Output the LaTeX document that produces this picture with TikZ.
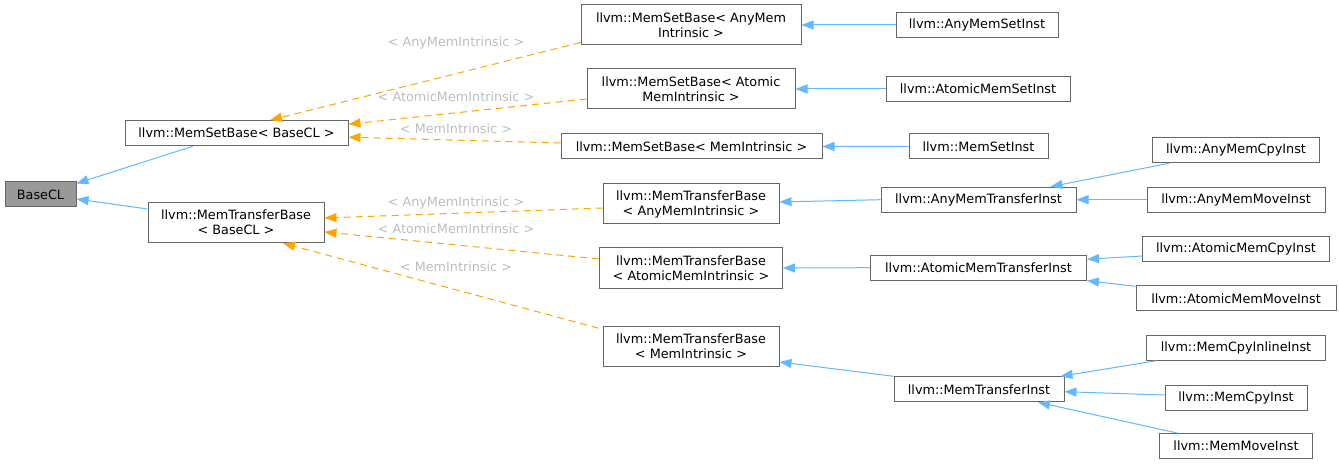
\documentclass[tikz,border=0pt]{standalone}
\usepackage{fontspec}
\setmainfont{DejaVu Sans}
\usetikzlibrary{arrows.meta}
\definecolor{nodeborder}{HTML}{666666}
\definecolor{basefill}{HTML}{999999}
\definecolor{inhblue}{HTML}{63B8FF}
\definecolor{tmplorange}{HTML}{FFA500}
\definecolor{lblgrey}{HTML}{BEBEBE}
\begin{document}
\begin{tikzpicture}[x=1pt,y=-1pt,
  font=\fontsize{12.8}{15}\selectfont,
  cls/.style={draw=nodeborder, line width=1pt, fill=white, inner sep=0pt, align=center, minimum height=25pt},
  cls2/.style={cls, minimum height=40pt},
  inh/.style={draw=inhblue, line width=1pt, -{Triangle[length=12pt,width=9pt]}},
  tpl/.style={draw=tmplorange, line width=1pt, dash pattern=on 7pt off 5pt, -{Triangle[length=12pt,width=9pt]}},
  lbl/.style={text=lblgrey, inner sep=0pt}]
\fill[white] (0,0) rectangle (1339,465);
\useasboundingbox (0,0) rectangle (1339,465);

% nodes
\node[cls, fill=basefill, minimum width=71pt] (base) at (40.5,194.5) {BaseCL};
\node[cls, minimum width=223pt] (msbB) at (236.5,133.2) {llvm::MemSetBase< BaseCL >};
\node[cls2, minimum width=176pt] (mtbB) at (236,222.7) {llvm::MemTransferBase\\< BaseCL >};

\node[cls2, minimum width=220pt] (msbAny) at (691,25) {llvm::MemSetBase< AnyMem\\Intrinsic >};
\node[cls2, minimum width=208pt] (msbAt) at (691,89) {llvm::MemSetBase< Atomic\\MemIntrinsic >};
\node[cls, minimum width=261pt] (msbMem) at (691.5,146.5) {llvm::MemSetBase< MemIntrinsic >};
\node[cls2, minimum width=176pt] (mtbAny) at (691,204) {llvm::MemTransferBase\\< AnyMemIntrinsic >};
\node[cls2, minimum width=183pt] (mtbAt) at (691,268) {llvm::MemTransferBase\\< AtomicMemIntrinsic >};
\node[cls2, minimum width=176pt] (mtbMem) at (691,346.7) {llvm::MemTransferBase\\< MemIntrinsic >};

\node[cls, minimum width=162pt] (amsi) at (977,25) {llvm::AnyMemSetInst};
\node[cls, minimum width=184pt] (atmsi) at (978,89) {llvm::AtomicMemSetInst};
\node[cls, minimum width=139pt] (msi) at (978.5,146.3) {llvm::MemSetInst};
\node[cls, minimum width=195pt] (amti) at (978.5,199.7) {llvm::AnyMemTransferInst};
\node[cls, minimum width=216pt] (atmti) at (978.5,267.7) {llvm::AtomicMemTransferInst};
\node[cls, minimum width=170pt] (mti) at (979,389.3) {llvm::MemTransferInst};

\node[cls, minimum width=167pt] (amci) at (1236,150.3) {llvm::AnyMemCpyInst};
\node[cls, minimum width=178pt] (ammi) at (1236,199.7) {llvm::AnyMemMoveInst};
\node[cls, minimum width=187pt] (atmci) at (1236,249.3) {llvm::AtomicMemCpyInst};
\node[cls, minimum width=200pt] (atmmi) at (1236,298.3) {llvm::AtomicMemMoveInst};
\node[cls, minimum width=179pt] (mcii) at (1236,347.8) {llvm::MemCpyInlineInst};
\node[cls, minimum width=142pt] (mci) at (1236,397.5) {llvm::MemCpyInst};
\node[cls, minimum width=153pt] (mmi) at (1236,446.2) {llvm::MemMoveInst};

% labels
\node[lbl] (l1) at (456,43) {< AnyMemIntrinsic >};
\node[lbl] (l2) at (456,97) {< AtomicMemIntrinsic >};
\node[lbl] (l3) at (456,129) {< MemIntrinsic >};
\node[lbl] (l4) at (456,202.7) {< AnyMemIntrinsic >};
\node[lbl] (l5) at (456,228.7) {< AtomicMemIntrinsic >};
\node[lbl] (l6) at (456,266.7) {< MemIntrinsic >};

% blue inheritance edges
\draw[inh] ([xshift=-43.5pt]msbB.south) -- ([yshift=-2pt]base.north east);
\draw[inh] ([yshift=13.7pt]mtbB.west) -- ([yshift=-4.5pt]base.east);
\draw[inh] (amsi.west) -- (msbAny.east);
\draw[inh] (atmsi.west) -- (msbAt.east);
\draw[inh] (msi.west) -- (msbMem.east);
\draw[inh] (amti.west) -- ([yshift=2pt]mtbAny.east);
\draw[inh] (atmti.west) -- (mtbAt.east);
\draw[inh] (mti.north west) -- ([yshift=-15.3pt]mtbMem.east);
\draw[inh] ([xshift=-67pt]amci.south) -- ([xshift=72pt]amti.north);
\draw[inh] (ammi.west) -- (amti.east);
\draw[inh] ([yshift=-6.7pt]atmci.west) -- ([yshift=8.4pt]atmti.east);
\draw[inh] ([yshift=-1pt]atmmi.north west) -- (atmti.south east);
\draw[inh] ([xshift=10pt]mcii.south west) -- ([xshift=-4pt]mti.north east);
\draw[inh] ([yshift=2.5pt]mci.west) -- ([yshift=-2.4pt]mti.east);
\draw[inh] ([xshift=-58pt]mmi.north) -- ([xshift=59pt]mti.south);

% orange template edges
\draw[tpl] ([yshift=3pt]msbAny.south west) -- ([xshift=33.5pt]msbB.north);
\draw[tpl] ([yshift=-10pt]msbAt.west) -- ([yshift=9pt]msbB.east);
\draw[tpl] ([yshift=3.5pt]msbMem.west) -- ([yshift=-4pt]msbB.east);
\draw[tpl] ([yshift=-4pt]mtbAny.west) -- ([yshift=4.7pt]mtbB.east);
\draw[tpl] ([yshift=9pt]mtbAt.west) -- ([yshift=-9.3pt]mtbB.east);
\draw[tpl] ([xshift=-4pt,yshift=-2pt]mtbMem.north west) -- ([xshift=47pt]mtbB.south);
\end{tikzpicture}
\end{document}
